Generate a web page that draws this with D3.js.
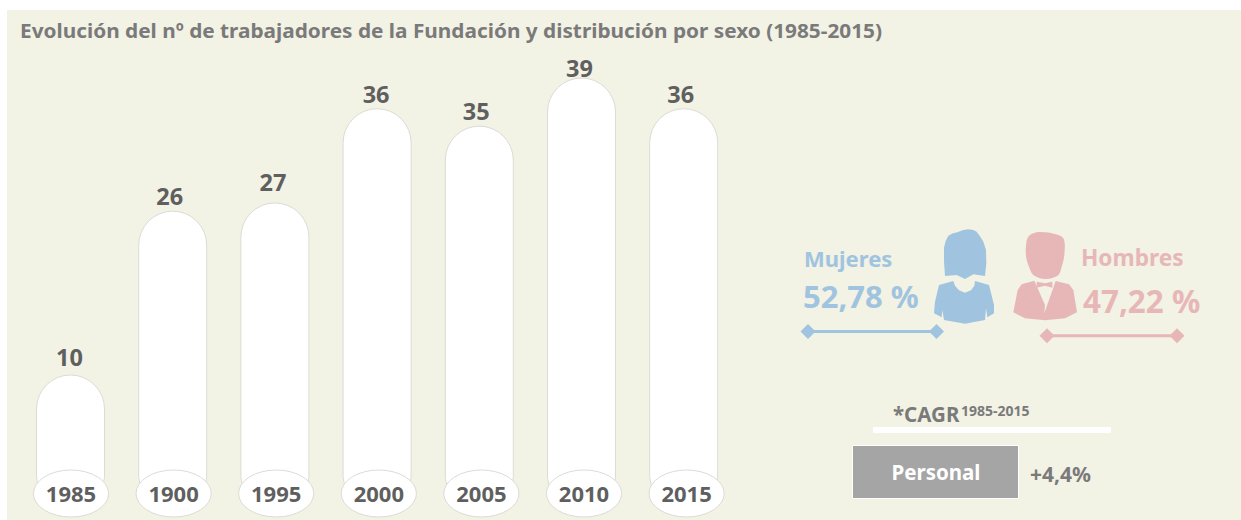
<!DOCTYPE html>
<html><head><meta charset="utf-8">
<script src="https://d3js.org/d3.v7.min.js"></script>
<style>html,body{margin:0;padding:0;background:#fff;overflow:hidden}svg{display:block}text{font-family:"Noto Sans",sans-serif;font-weight:700}</style>
</head><body><svg id="c" width="1241" height="520"></svg>
<script>
const years = ["1985","1900","1995","2000","2005","2010","2015"];
const valueLabels = [10,26,27,36,35,39,36];
// bar heights as drawn in the picture (in workers), which differ slightly from some labels
const barLevels = [10,26,26.8,36,34.3,39,36];
const title = "Evolución del nº de trabajadores de la Fundación y distribución por sexo (1985-2015)";

// layout nudges of the value labels relative to their bars, as placed in the reference
const labelGap = [9,6,12,5.5,6,1,5.5];
const labelShift = [-1,-3,-2,-1,-3,-2,-3];

const svg = d3.select("#c");
svg.append("rect").attr("x",7).attr("y",10).attr("width",1234).attr("height",510).attr("fill","#f2f2e5");
svg.append("text").attr("x",20).attr("y",38).attr("font-size",20).attr("fill","#7a7a7a")
  .attr("textLength",862).attr("lengthAdjust","spacingAndGlyphs").text(title);

const x = d3.scalePoint().domain(years).range([70.5,683.7]);
const xBase = d3.scalePoint().domain(years).range([71,686.6]);
const y = d3.scaleLinear().domain([0,39]).range([477.4,78]);
const bw = 68, r = bw/2;
const barPath = (d,i)=>{
  const l=x(d)-r, t=y(barLevels[i]), b=y(0), rr=l+bw;
  return `M${l},${b}V${t+r}A${r},${r} 0 0 1 ${rr},${t+r}V${b}Q${rr},${b+8} ${rr-6},${b+14}H${l+6}Q${l},${b+8} ${l},${b}Z`;
};
svg.selectAll(".bar").data(years).join("path").attr("class","bar").attr("d",barPath)
  .attr("fill","#fff").attr("stroke","#dcdcd6").attr("stroke-width",1);
svg.selectAll(".val").data(years).join("text").attr("class","val")
  .attr("x",(d,i)=>x(d)+labelShift[i]).attr("y",(d,i)=>y(barLevels[i])-labelGap[i]).attr("text-anchor","middle")
  .attr("font-size",23.5).attr("fill","#5f5f5f").text((d,i)=>valueLabels[i]);
svg.selectAll(".base").data(years).join("ellipse").attr("class","base")
  .attr("cx",d=>xBase(d)).attr("cy",493.5).attr("rx",37.6).attr("ry",23.5)
  .attr("fill","#fff").attr("stroke","#dcdcd6").attr("stroke-width",1);
svg.selectAll(".yr").data(years).join("text").attr("class","yr")
  .attr("x",d=>xBase(d)).attr("y",502).attr("text-anchor","middle")
  .attr("font-size",22).attr("fill","#5f5f5f").text(d=>d);

const blue="#a0c4e0", pink="#e7b7b7";
const t=(s,px,py,fs,col,anchor)=>svg.append("text").attr("x",px).attr("y",py).attr("font-size",fs).attr("fill",col).attr("text-anchor",anchor||"start").text(s);
t("Mujeres",804,267,22,blue);
t("52,78 %",803,308,31,blue);
t("Hombres",1081,266,22.7,pink);
t("47,22 %",1083,313,31.4,pink);

const connector=(x1,x2,yy,col)=>{
  svg.append("line").attr("x1",x1).attr("x2",x2).attr("y1",yy).attr("y2",yy).attr("stroke",col).attr("stroke-width",3);
  [x1,x2].forEach(px=>svg.append("path").attr("d",d3.symbol(d3.symbolSquare,112)()).attr("transform",`translate(${px},${yy}) rotate(45)`).attr("fill",col));
};
connector(808,936.5,331.5,blue);
connector(1047,1177,335.7,pink);

const poly=(pts)=>d3.line().curve(d3.curveCatmullRomClosed.alpha(0.5))(pts);
const raw=(pts)=>d3.line()(pts)+"Z";
const icon=svg.append("g").attr("transform","translate(925,225) scale(0.33333)");
icon.append("path").attr("fill",blue).attr("d",raw([[57,68],[62,48],[70,32],[84,25],[97,22],[115,15],[130,13],[145,15],[155,20],[166,35],[175,50],[183,75],[184,115],[180,153],[145,148],[120,162],[95,150],[60,153],[57,110]]));
icon.append("path").attr("fill",blue).attr("d",raw([[42,180],[85,168],[90,182],[102,196],[120,203],[138,196],[148,182],[150,168],[192,180],[207,240],[207,265],[187,277],[183,250],[180,285],[120,296],[57,285],[52,255],[50,277],[27,265],[30,230]]));
icon.append("path").attr("fill",pink).attr("d",poly([[303,62],[310,35],[335,22],[390,27],[415,40],[418,90],[410,125],[400,150],[360,162],[325,150],[312,125],[304,100]]));
icon.append("path").attr("fill",pink).attr("d",raw([[265,262],[278,195],[290,178],[328,167],[360,240],[358,265],[392,168],[432,178],[445,195],[456,262],[420,280],[360,286],[300,280]]));
icon.append("path").attr("fill",pink).attr("d",raw([[335,170],[360,175],[382,170],[382,188],[360,182],[335,188]]));

t("*CAGR",893,422,20.5,"#7a7a7a");
t("1985-2015",961,416,14,"#7a7a7a");
svg.append("rect").attr("x",873).attr("y",427).attr("width",238).attr("height",6).attr("fill","#fff");
svg.append("rect").attr("x",852.5).attr("y",445.5).attr("width",166).attr("height",53).attr("fill","#a5a5a5").attr("stroke","#fff");
t("Personal",936,480,20.5,"#fff","middle");
t("+4,4%",1030,482,21,"#7a7a7a");
</script></body></html>
